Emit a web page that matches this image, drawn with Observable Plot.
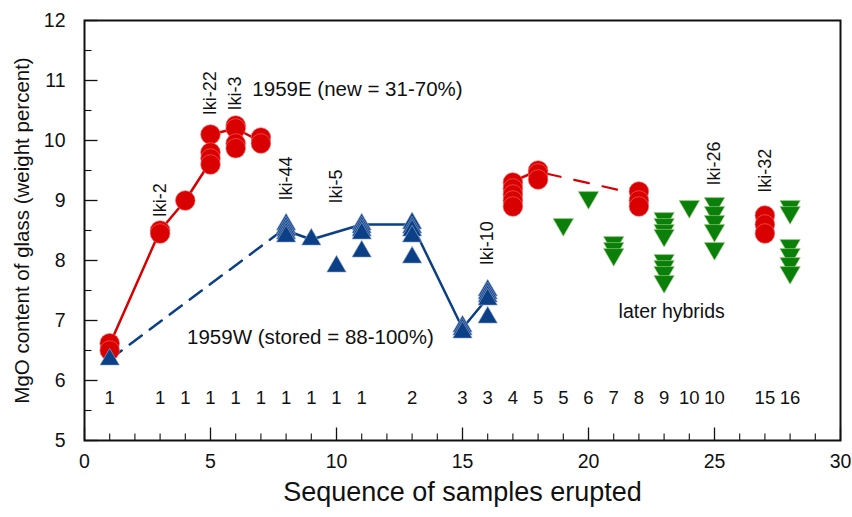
<!DOCTYPE html>
<html>
<head>
<meta charset="utf-8">
<script src="https://cdn.jsdelivr.net/npm/d3@7"></script>
<script src="https://cdn.jsdelivr.net/npm/@observablehq/plot@0.6"></script>
<style>
  html, body { margin: 0; padding: 0; background: #fff; }
  #chart svg { display: block; }
</style>
</head>
<body>
<div id="chart"></div>
<script>
// ---- Data ----
// 1959E red circles
const redSample = [1,1, 3,3, 4, 5,5,5,5, 6,6,6,6, 7,7, 17,17,17,17,17, 18,18,18, 22,22,22, 27,27,27];
const redMgO    = [6.62,6.5, 8.5,8.45, 9.0, 10.1,9.8,9.7,9.6, 10.25,10.2,9.95,9.87, 10.05,9.95, 9.3,9.2,9.1,9.0,8.9, 9.5,9.45,9.35, 9.15,9.0,8.9, 8.75,8.6,8.45];
// red connecting line (solid) and dashed link
const redLineX = [1, 3, 4, 5, 5, 6, 7];
const redLineY = [6.6, 8.5, 9.0, 9.65, 10.1, 10.2, 9.98];
const redLine2X = [17, 18];
const redLine2Y = [9.32, 9.5];
const redDashX = [18, 22];
const redDashY = [9.48, 9.1];

// 1959W blue triangles
const blueSample = [1, 8,8,8,8,8, 9, 10, 11,11,11,11,11, 13,13,13,13,13, 15,15,15, 16,16,16,16,16];
const blueMgO    = [6.35, 8.6,8.55,8.5,8.45,8.4, 8.35, 7.9, 8.6,8.55,8.5,8.45,8.15, 8.62,8.55,8.5,8.4,8.05, 6.9,6.85,6.8, 7.5,7.45,7.4,7.35,7.05];
const blueLineX = [8, 9, 11, 13, 15, 16];
const blueLineY = [8.5, 8.35, 8.6, 8.6, 6.87, 7.38];
const blueDashX = [1, 8];
const blueDashY = [6.35, 8.55];

// later hybrids, green inverted triangles
const greenSample = [19, 20, 21,21,21, 23,23,23,23,23,23,23,23, 24, 25,25,25,25,25, 28,28,28,28,28,28];
const greenMgO    = [8.6, 9.05, 8.3,8.2,8.1, 8.7,8.6,8.5,8.42,8.0,7.9,7.8,7.65, 8.9, 8.95,8.8,8.65,8.5,8.2, 8.9,8.8,8.25,8.1,7.95,7.8];

// sample labels
const ikiLabels = ["Iki-2","Iki-22","Iki-3","Iki-44","Iki-5","Iki-10","Iki-26","Iki-32"];
const ikiX      = [3, 5, 6, 8, 10, 16, 25, 27];
const ikiY      = [8.72, 10.42, 10.5, 9.0, 8.95, 7.92, 9.25, 9.13];

// count row
const countX = [1,3,4,5,6,7,8,9,10,11,13,15,16,17,18,19,20,21,22,23,24,25,27,28];
const countLabels = ["1","1","1","1","1","1","1","1","1","1","2","3","3","4","5","5","6","7","8","9","10","10","15","16"];

// annotations
const notes = ["1959E (new = 31-70%)", "1959W (stored = 88-100%)", "later hybrids"];
const noteX = [6.66, 4.07, 23.3];
const noteY = [10.85, 6.72, 7.15];
const noteAnchor = ["start", "start", "middle"];

// axes
const xTicks = [0, 5, 10, 15, 20, 25, 30];
const xMinor = d3.range(1, 30).filter(d => d % 5 !== 0);
const yTicks = [5, 6, 7, 8, 9, 10, 11, 12];
const yMinor = [5.5, 6.5, 7.5, 8.5, 9.5, 10.5, 11.5];
const xTitle = "Sequence of samples erupted";
const yTitle = "MgO content of glass (weight percent)";

// ---- Styling ----
const RED = "#d80000", BLUE = "#0b3f86", GREEN = "#0a7f0a", INK = "#111";
const zip = (xs, ys) => xs.map((x, i) => ({x, y: ys[i]}));
const noteRows = notes.map((t, i) => ({t, x: noteX[i], y: noteY[i], a: noteAnchor[i]}));

const tickRight = len => ({draw(ctx) { ctx.moveTo(0, 0); ctx.lineTo(len, 0); }});
const tickUp = len => ({draw(ctx) { ctx.moveTo(0, 0); ctx.lineTo(0, -len); }});
const triDown = {draw(ctx, size) {
  const c = Math.sqrt(3), y = -Math.sqrt(size / (c * 3));
  ctx.moveTo(0, -2 * y); ctx.lineTo(-c * y, y); ctx.lineTo(c * y, y); ctx.closePath();
}};

const chart = Plot.plot({
  width: 852,
  height: 517,
  marginLeft: 84,
  marginRight: 12,
  marginTop: 20,
  marginBottom: 77,
  x: {domain: [0, 30]},
  y: {domain: [5, 12]},
  style: {fontFamily: "'Liberation Sans', Arial, Helvetica, sans-serif", background: "#fff", color: INK},
  marks: [
    Plot.axisX(xTicks, {tickSize: 0, tickPadding: 14, fontSize: 19.5, label: null, tickFormat: d3.format("d")}),
    Plot.axisY(yTicks, {tickSize: 0, tickPadding: 19, fontSize: 19.5, label: null, tickFormat: d3.format("d")}),
    Plot.dot(yTicks, {y: d => d, frameAnchor: "left", symbol: tickRight(13), r: 1, stroke: INK, strokeWidth: 1.3, fill: "none"}),
    Plot.dot(yMinor, {y: d => d, frameAnchor: "left", symbol: tickRight(7), r: 1, stroke: INK, strokeWidth: 1.1, fill: "none"}),
    Plot.dot(xTicks, {x: d => d, frameAnchor: "bottom", symbol: tickUp(13), r: 1, stroke: INK, strokeWidth: 1.3, fill: "none"}),
    Plot.dot(xMinor, {x: d => d, frameAnchor: "bottom", symbol: tickUp(7), r: 1, stroke: INK, strokeWidth: 1.1, fill: "none"}),
    Plot.text([yTitle], {frameAnchor: "left", dx: -62, rotate: -90, textAnchor: "middle", fontSize: 20.5, fill: INK}),
    Plot.text([xTitle], {frameAnchor: "bottom", dy: 60, textAnchor: "middle", fontSize: 27, fill: INK}),
    // lines
    Plot.line(zip(blueDashX, blueDashY), {x: "x", y: "y", stroke: BLUE, strokeWidth: 2.5, strokeDasharray: "15,10"}),
    Plot.line(zip(blueLineX, blueLineY), {x: "x", y: "y", stroke: BLUE, strokeWidth: 2.5}),
    Plot.line(zip(redLineX, redLineY), {x: "x", y: "y", stroke: RED, strokeWidth: 2.5}),
    Plot.line(zip(redLine2X, redLine2Y), {x: "x", y: "y", stroke: RED, strokeWidth: 2.5}),
    Plot.line(zip(redDashX, redDashY), {x: "x", y: "y", stroke: RED, strokeWidth: 2.2, strokeDasharray: "15,14", strokeDashoffset: -8}),
    // markers
    Plot.dot(zip(redSample, redMgO), {x: "x", y: "y", r: 9.8, fill: RED, stroke: "#ff6a6a", strokeWidth: 0.6}),
    Plot.dot(zip(blueSample, blueMgO), {x: "x", y: "y", symbol: "triangle", r: 7.2, fill: BLUE, stroke: "#9fb4d6", strokeWidth: 0.6}),
    Plot.dot(zip(greenSample, greenMgO), {x: "x", y: "y", symbol: triDown, r: 7.6, fill: GREEN, stroke: "#a8d08c", strokeWidth: 0.6}),
    // labels
    Plot.text(ikiLabels, {x: (d, i) => ikiX[i], y: (d, i) => ikiY[i], text: d => d, rotate: -90, textAnchor: "start", fontSize: 18, fill: INK}),
    Plot.text(noteRows.filter(d => d.a === "start"), {x: "x", y: "y", text: "t", textAnchor: "start", fontSize: 20.5, fill: INK}),
    Plot.text(noteRows.filter(d => d.a === "middle"), {x: "x", y: "y", text: "t", textAnchor: "middle", fontSize: 19.5, fill: INK}),
    Plot.text(countLabels, {x: (d, i) => countX[i], text: d => d, frameAnchor: "bottom", dy: -37, fontSize: 18.5, fill: INK}),
    Plot.frame({stroke: INK, strokeWidth: 2})
  ]
});
document.getElementById("chart").appendChild(chart);
</script>
</body>
</html>
